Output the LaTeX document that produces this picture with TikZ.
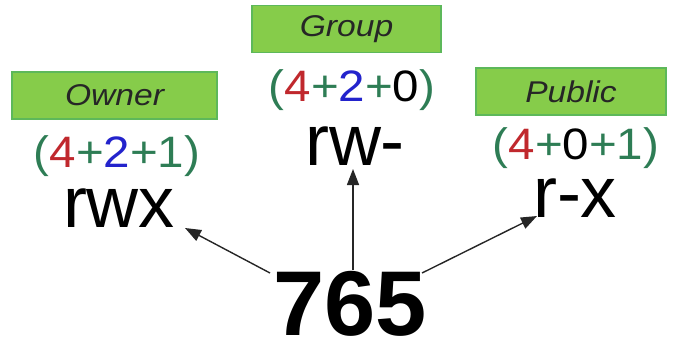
\documentclass[tikz,border=0pt]{standalone}
\usepackage{fontspec}
\setmainfont{Liberation Sans}
\usetikzlibrary{arrows.meta}
\definecolor{boxfill}{HTML}{86CC4A}
\definecolor{boxedge}{HTML}{5DB85A}
\definecolor{digred}{HTML}{C0282D}
\definecolor{digblue}{HTML}{2323CC}
\definecolor{diggreen}{HTML}{2E7D55}
\newcommand{\rd}[1]{\textcolor{digred}{#1}}
\newcommand{\bl}[1]{\textcolor{digblue}{#1}}
\tikzset{
  rolebox/.style={draw=boxedge, line width=1.2pt, fill=boxfill, minimum height=47pt,
    inner sep=0pt},
  rolename/.style={inner sep=0pt, xscale=1.12, transform shape,
    font=\fontsize{30}{32}\selectfont\itshape, text=black!85},
  triplet/.style={anchor=base, inner sep=0pt, xscale=1.08, transform shape,
    font=\fontsize{44}{48}\selectfont, text=diggreen},
  perm/.style={anchor=base, inner sep=0pt, font=\fontsize{72}{76}\selectfont},
  octal/.style={anchor=base, inner sep=0pt, text depth=0pt,
    font=\fontsize{92}{96}\selectfont\bfseries},
  pointer/.style={draw=black!85, line width=1.4pt, -{Triangle[length=16pt,width=12pt]}}
}
\begin{document}
\begin{tikzpicture}[x=1pt,y=-1pt]
\useasboundingbox (0,0) rectangle (679,341);

% role labels
\node[rolebox, minimum width=205pt] (owner) at (114.5,95.5) {};
\node[rolename] (ownertxt) at (owner.center) {Owner};
\node[rolebox, minimum width=189pt] (group) at (346.5,29) {};
\node[rolename] (grouptxt) at (group.center) {Group};
\node[rolebox, minimum width=190pt] (public) at (571,91.5) {};
\node[rolename] (publictxt) at (public.center) {Public};

% bit sums
\node[triplet] (osum) at (117,167) {(\rd{4}+\bl{2}+1)};
\node[triplet] (gsum) at (352,101) {(\rd{4}+\bl{2}+\textcolor{black}{0})};
\node[triplet] (psum) at (576,159) {(\rd{4}+\textcolor{black}{0}+1)};

% symbolic permissions
\node[perm] (rwx) at (119,227) {rwx};
\node[perm] (rw) at (355,165) {rw-};
\node[perm] (rx) at (575,217) {r-x};

% octal value
\node[octal] (oct) at (350,335) {765};

% arrow ends
\coordinate (oL) at (270,273);
\coordinate (oM) at (353,270);
\coordinate (oR) at (422,273);
\coordinate (tL) at (185,228);
\coordinate (tM) at (353,169);
\coordinate (tR) at (537,216);

\draw[pointer] (oL) -- (tL);
\draw[pointer] (oM) -- (tM);
\draw[pointer] (oR) -- (tR);
\end{tikzpicture}
\end{document}
